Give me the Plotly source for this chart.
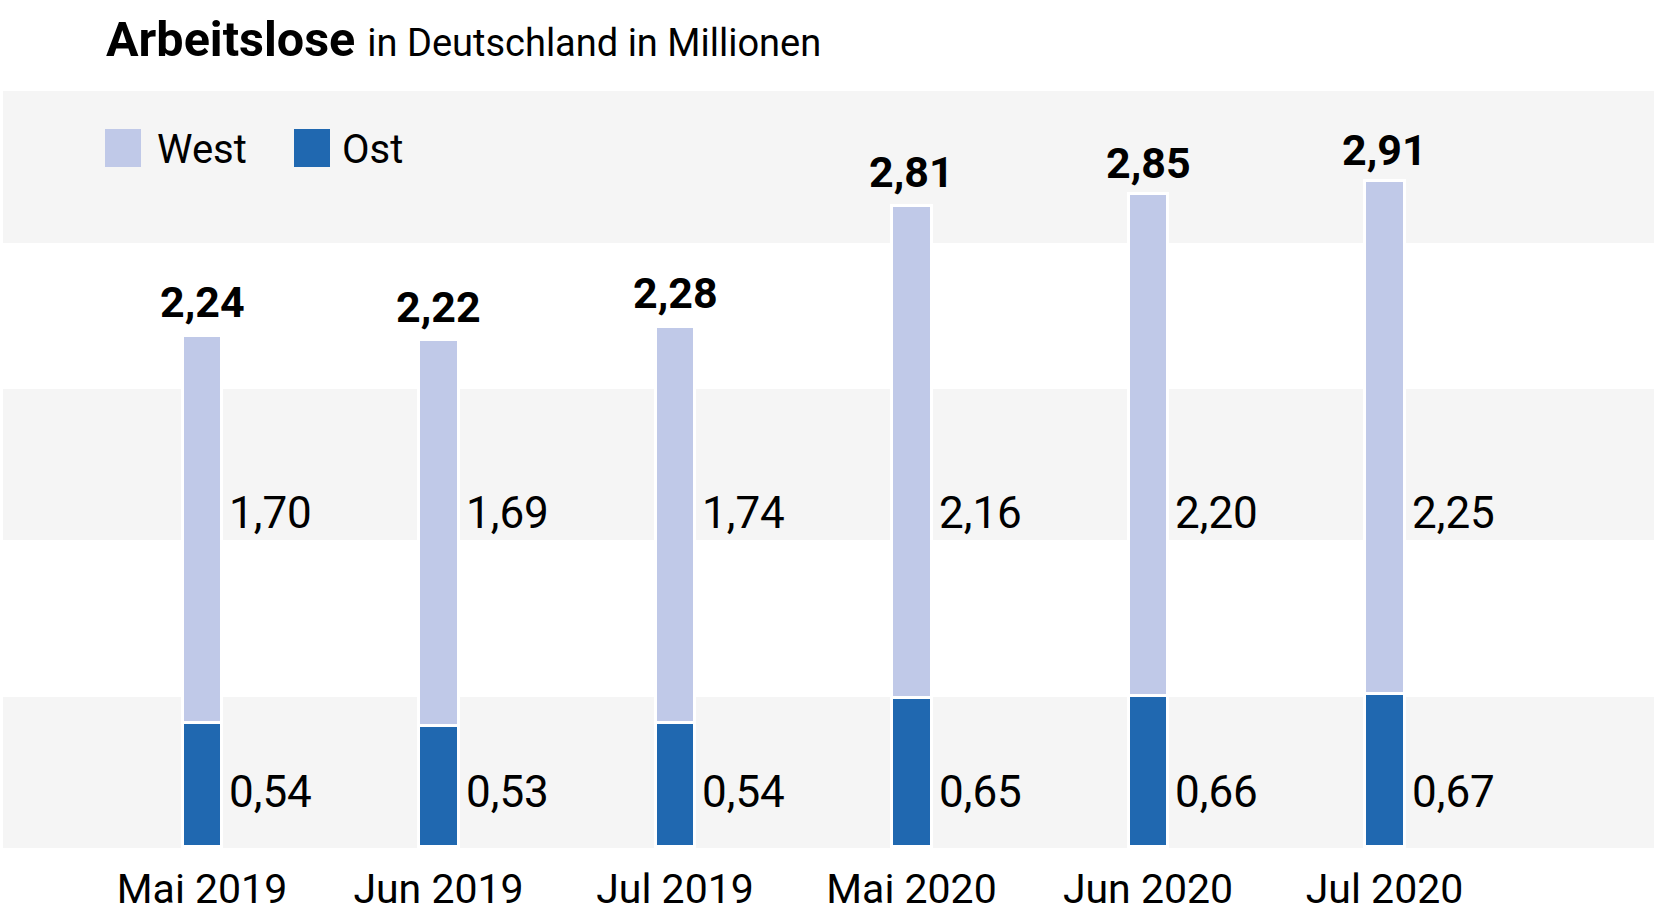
import plotly.graph_objects as go

months = ["Mai 2019", "Jun 2019", "Jul 2019", "Mai 2020", "Jun 2020", "Jul 2020"]
west = [1.70, 1.69, 1.74, 2.16, 2.20, 2.25]
ost = [0.54, 0.53, 0.54, 0.65, 0.66, 0.67]
total = [2.24, 2.22, 2.28, 2.81, 2.85, 2.91]

WEST_C = "#c0c9e8"
OST_C = "#2068b0"
FONT = "Roboto, Liberation Sans, Arial, sans-serif"

FW, FH = 1668, 922
L, T, R, B = 3, 91, 14, 74
W, H = FW - L - R, FH - T - B
PXU = 228.0  # pixels per million
Y0 = 846     # pixel row of value 0


def px(x):
    return (x - L) / W


def py(y):
    return (T + H - y) / H


def fmt(v):
    return f"{v:.2f}".replace(".", ",")


xs = list(range(len(months)))

fig = go.Figure()
fig.add_bar(x=xs, y=ost, name="Ost", marker=dict(color=OST_C, line=dict(color="white", width=3)),
            width=0.165, hoverinfo="skip")
fig.add_bar(x=xs, y=west, name="West", marker=dict(color=WEST_C, line=dict(color="white", width=3)),
            width=0.165, hoverinfo="skip")

# background bands
for top, bot in [(91, 243), (389, 540), (697, 848)]:
    fig.add_shape(type="rect", xref="paper", yref="paper", x0=0, x1=1, y0=py(bot), y1=py(top),
                  fillcolor="#f5f5f5", line=dict(width=0), layer="below")

west_label_y = (Y0 - 513) / PXU
ost_label_y = (Y0 - 792) / PXU

ann = []
for i in xs:
    ann.append(dict(x=i, y=total[i], xref="x", yref="y", text=f"<b>{fmt(total[i])}</b>",
                    showarrow=False, yanchor="bottom", xanchor="center", yshift=6,
                    font=dict(family=FONT, size=43, color="black")))
    ann.append(dict(x=i, y=west_label_y, xref="x", yref="y", text=fmt(west[i]), showarrow=False,
                    xanchor="left", yanchor="middle", xshift=25,
                    font=dict(family=FONT, size=44, color="black")))
    ann.append(dict(x=i, y=ost_label_y, xref="x", yref="y", text=fmt(ost[i]), showarrow=False,
                    xanchor="left", yanchor="middle", xshift=25,
                    font=dict(family=FONT, size=44, color="black")))

# title
ann.append(dict(x=px(104), y=py(40), xref="paper", yref="paper", xanchor="left", yanchor="middle",
                showarrow=False,
                text="<b>Arbeitslose</b> <span style='font-size:38px'>in Deutschland in Millionen</span>",
                font=dict(family=FONT, size=48.5, color="black")))

# legend
for label, col, x0, tx in [("West", WEST_C, 105, 155), ("Ost", OST_C, 294, 340)]:
    fig.add_shape(type="rect", xref="paper", yref="paper", x0=px(x0), x1=px(x0 + 36),
                  y0=py(167), y1=py(129), fillcolor=col, line=dict(width=0))
    ann.append(dict(x=px(tx), y=py(149), xref="paper", yref="paper", xanchor="left", yanchor="middle",
                    showarrow=False, text=label, font=dict(family=FONT, size=40, color="black")))

fig.update_layout(
    width=FW, height=FH,
    margin=dict(l=L, r=R, t=T, b=B, autoexpand=False),
    barmode="stack",
    showlegend=False,
    plot_bgcolor="white", paper_bgcolor="white",
    annotations=ann,
    font=dict(family=FONT, color="black"),
)
fig.update_xaxes(range=[-(202 - L) / 236.5, (FW - R - 202) / 236.5], tickvals=xs, ticktext=months,
                 showgrid=False, zeroline=False, showline=False, ticks="", ticklabelstandoff=13,
                 automargin=False, tickfont=dict(family=FONT, size=41, color="black"))
fig.update_yaxes(range=[-(848 - Y0) / PXU, (Y0 - T) / PXU], showgrid=False, zeroline=False,
                 showticklabels=False, showline=False, automargin=False)

fig.write_html("out.html", config={"displayModeBar": False},
               post_script="document.body.style.margin='0px';")
